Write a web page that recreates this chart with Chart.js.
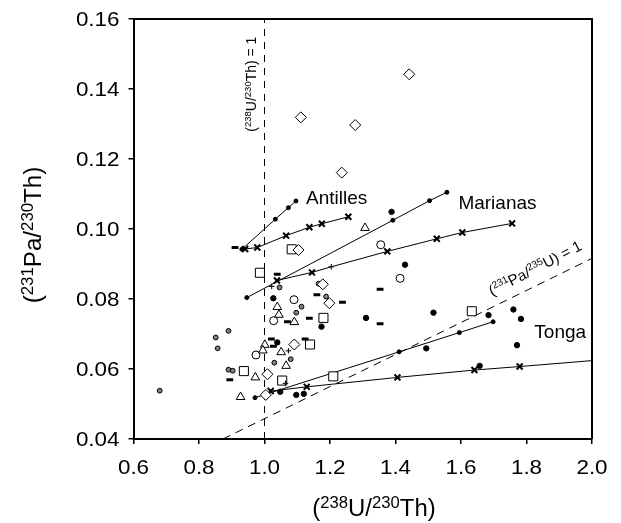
<!DOCTYPE html>
<html>
<head>
<meta charset="utf-8">
<script src="https://cdn.jsdelivr.net/npm/chart.js@4.4.0/dist/chart.umd.min.js"></script>
<style>
  html, body { margin: 0; padding: 0; background: #fff; }
  canvas { display: block; }
</style>
</head>
<body>
<canvas id="chart" width="621" height="523"></canvas>
<script>
const FONT = '"Liberation Sans", Arial, Helvetica, sans-serif';

// axis ticks
const xTicks = [0.6, 0.8, 1.0, 1.2, 1.4, 1.6, 1.8, 2.0];
const yTicks = [0.04, 0.06, 0.08, 0.10, 0.12, 0.14, 0.16];

// melting trajectories, [238U/230Th, 231Pa/230Th]
const antillesDots  = [[0.931, 0.0942], [1.033, 0.1028], [1.073, 0.1061], [1.096, 0.1080]];
const antillesCross = [[0.941, 0.0943], [0.978, 0.0947], [1.066, 0.0981], [1.137, 0.1005], [1.175, 0.1015], [1.256, 0.1035]];
const marianasDots  = [[0.946, 0.0804], [1.392, 0.1025], [1.504, 0.1081], [1.557, 0.1105]];
const marianasCross = [[1.038, 0.0853], [1.145, 0.0876], [1.204, 0.0892], [1.375, 0.0936], [1.526, 0.0972], [1.604, 0.0990], [1.756, 0.1016]];
const tongaDots     = [[0.971, 0.0518], [1.411, 0.0649], [1.595, 0.0704], [1.698, 0.0735]];
const tongaCross    = [[1.019, 0.0537], [1.129, 0.0549], [1.406, 0.0576], [1.641, 0.0597], [1.779, 0.0607], [2.0, 0.0624]];

// sample groups
const filledDots = [[1.027, 0.0802], [1.039, 0.0676], [1.174, 0.0721], [1.310, 0.0746], [1.429, 0.0898], [1.388, 0.1049],
  [1.048, 0.0535], [1.097, 0.0526], [1.120, 0.0529], [1.516, 0.0761], [1.494, 0.0659], [1.684, 0.0754],
  [1.760, 0.0770], [1.783, 0.0743], [1.771, 0.0668], [1.657, 0.0609]];
const greyDots = [[0.680, 0.0538], [0.851, 0.0690], [0.857, 0.0659], [0.890, 0.0709], [0.890, 0.0598], [0.903, 0.0595],
  [1.046, 0.0833], [1.097, 0.0761], [1.113, 0.0778], [1.165, 0.0844], [1.188, 0.0807], [1.030, 0.0618], [1.080, 0.0628]];
const openCircles = [[1.090, 0.0798], [1.028, 0.0738], [0.974, 0.0640], [1.355, 0.0955], [1.414, 0.0859]];
const diamonds = [[1.442, 0.1442], [1.111, 0.1319], [1.277, 0.1297], [1.236, 0.1161], [1.104, 0.0940], [1.178, 0.0842],
  [1.198, 0.0788], [1.091, 0.0670], [1.009, 0.0585], [1.004, 0.0526]];
const triangles = [[1.307, 0.1003], [1.039, 0.0777], [1.044, 0.0755], [1.091, 0.0734], [1.001, 0.0669], [0.995, 0.0653],
  [1.051, 0.0648], [1.066, 0.0609], [0.972, 0.0576], [0.927, 0.0520]];
const squares = [[0.986, 0.0875], [1.083, 0.0942], [1.180, 0.0746], [1.139, 0.0670], [0.937, 0.0594], [1.054, 0.0567],
  [1.210, 0.0579], [1.633, 0.0765]];
const plusMarks = [[1.022, 0.0836], [1.073, 0.0652], [1.064, 0.0559]];
const dashes = [[0.910, 0.0947], [1.039, 0.0871], [1.160, 0.0812], [1.238, 0.0791], [1.353, 0.0828], [1.353, 0.0729],
  [1.137, 0.0745], [1.070, 0.0735], [1.021, 0.0686], [1.027, 0.0665], [1.124, 0.0686], [0.894, 0.0569]];

// equilines
const uThEquiline  = [[1.0, 0.04], [1.0, 0.16]];
const paUEquiline  = [[0.873, 0.04], [2.0, 0.0916]];

const pts = arr => arr.map(([x, y]) => ({ x, y }));

function markers(data, style, radius, extra) {
  return Object.assign({
    data: pts(data),
    showLine: false,
    pointStyle: style,
    pointRadius: radius,
    pointBorderColor: '#000',
    pointBackgroundColor: '#fff',
    pointBorderWidth: 1
  }, extra || {});
}

function path(data, extra) {
  return Object.assign({
    data: pts(data),
    showLine: true,
    borderColor: '#000',
    borderWidth: 1,
    pointBorderColor: '#000',
    pointBackgroundColor: '#000',
    pointBorderWidth: 1
  }, extra || {});
}

// "(^238^U)" -> runs of normal / superscript text
function runs(str) {
  return str.split('^').map((t, i) => ({ t, s: i % 2 === 1 })).filter(r => r.t);
}

function richText(ctx, str, x, y, o) {
  const parts = runs(str);
  const fontOf = p => `${p.s ? o.sup : o.size}px ${FONT}`;
  let total = 0;
  parts.forEach(p => { ctx.font = fontOf(p); total += ctx.measureText(p.t).width; });
  ctx.save();
  ctx.translate(x, y);
  ctx.rotate(o.angle || 0);
  ctx.scale(o.stretch || 1, 1);
  ctx.fillStyle = '#000';
  ctx.textAlign = 'left';
  ctx.textBaseline = 'alphabetic';
  let cx = o.align === 'center' ? -total / 2 : o.align === 'right' ? -total : 0;
  parts.forEach(p => {
    ctx.font = fontOf(p);
    ctx.fillText(p.t, cx, p.s ? -o.rise : 0);
    cx += ctx.measureText(p.t).width;
  });
  ctx.restore();
}

const decorations = {
  id: 'decorations',
  afterDraw(chart) {
    const { ctx, chartArea: a, scales: { x, y } } = chart;
    // top and right frame
    ctx.save();
    ctx.strokeStyle = '#000';
    ctx.lineWidth = 2;
    ctx.beginPath();
    ctx.moveTo(a.left, a.top);
    ctx.lineTo(a.right, a.top);
    ctx.lineTo(a.right, a.bottom);
    ctx.stroke();
    ctx.restore();

    // tick labels, slightly wide numerals
    const tickOpts = { size: 20, sup: 20, rise: 0, stretch: 1.12 };
    xTicks.forEach(v => richText(ctx, v.toFixed(1), x.getPixelForValue(v), a.bottom + 35,
      Object.assign({ align: 'center' }, tickOpts)));
    yTicks.forEach(v => richText(ctx, v.toFixed(2), a.left - 14, y.getPixelForValue(v) + 7,
      Object.assign({ align: 'right' }, tickOpts)));

    // axis titles
    richText(ctx, '(^238^U/^230^Th)', 374, 516, { size: 23, sup: 16, rise: 8, align: 'center', stretch: 1.04 });
    richText(ctx, '(^231^Pa/^230^Th)', 41, 235, { size: 23, sup: 16, rise: 8, align: 'center', angle: -Math.PI / 2, stretch: 1.05 });

    // arc labels
    ctx.save();
    ctx.font = `19px ${FONT}`;
    ctx.fillStyle = '#000';
    ctx.fillText('Antilles', x.getPixelForValue(1.127), y.getPixelForValue(0.1071));
    ctx.fillText('Marianas', x.getPixelForValue(1.592), y.getPixelForValue(0.1056));
    ctx.fillText('Tonga', x.getPixelForValue(1.824), y.getPixelForValue(0.0688));
    ctx.restore();

    // equiline labels
    richText(ctx, '(^238^U/^230^Th) = 1', x.getPixelForValue(0.974), y.getPixelForValue(0.1278),
      { size: 14, sup: 9.5, rise: 5, angle: -Math.PI / 2 });
    const p0 = paUEquiline[0], p1 = paUEquiline[1];
    const ang = Math.atan2(y.getPixelForValue(p1[1]) - y.getPixelForValue(p0[1]),
                           x.getPixelForValue(p1[0]) - x.getPixelForValue(p0[0]));
    richText(ctx, '(^231^Pa/^235^U) = 1', x.getPixelForValue(1.695), y.getPixelForValue(0.0808),
      { size: 15, sup: 10, rise: 5.5, angle: ang * 1.05 });
  }
};

const axisCommon = {
  type: 'linear',
  ticks: { display: false },
  grid: { drawOnChartArea: false, tickLength: 5, color: '#000', lineWidth: 1.5 },
  border: { display: true, color: '#000', width: 2 }
};

new Chart(document.getElementById('chart'), {
  type: 'scatter',
  data: {
    datasets: [
      markers(dashes, 'line', 3.4, { pointBorderWidth: 3 }),
      markers(plusMarks, 'cross', 2.8),
      markers(diamonds, 'rectRot', 5.5),
      markers(squares, 'rect', 6.4),
      markers(triangles, 'triangle', 5),
      markers(openCircles, 'circle', 4),
      markers(greyDots, 'circle', 2.4, { pointBackgroundColor: '#808080' }),
      markers(filledDots, 'circle', 2.7, { pointBackgroundColor: '#000' }),
      path(antillesDots, { pointRadius: 2 }),
      path(antillesCross, { pointStyle: 'crossRot', pointRadius: 4.2, pointBorderWidth: 2 }),
      path(marianasDots, { pointRadius: 2 }),
      path(marianasCross, {
        pointStyle: marianasCross.map((p, i) => i === 2 ? 'cross' : 'crossRot'),
        pointRadius: marianasCross.map((p, i) => i === 2 ? 2.8 : 4.2),
        pointBorderWidth: marianasCross.map((p, i) => i === 2 ? 1 : 2)
      }),
      path(tongaDots, { pointRadius: 2 }),
      path(tongaCross, {
        pointStyle: 'crossRot',
        pointRadius: tongaCross.map(p => p[0] >= 2 ? 0 : 4.2),
        pointBorderWidth: 2
      }),
      path(uThEquiline, { borderDash: [7, 6], pointRadius: 0 }),
      path(paUEquiline, { borderDash: [8, 6], pointRadius: 0 })
    ]
  },
  options: {
    responsive: false,
    animation: false,
    events: [],
    layout: { padding: { left: 0, top: 19, right: 29, bottom: 0 } },
    plugins: { legend: { display: false }, tooltip: { enabled: false } },
    scales: {
      x: Object.assign({}, axisCommon, {
        min: 0.6,
        max: 2.0,
        afterBuildTicks: s => { s.ticks = xTicks.map(value => ({ value })); },
        afterFit: s => { s.height = 84; }
      }),
      y: Object.assign({}, axisCommon, {
        min: 0.04,
        max: 0.16,
        afterBuildTicks: s => { s.ticks = yTicks.map(value => ({ value })); },
        afterFit: s => { s.width = 133.5; }
      })
    }
  },
  plugins: [decorations]
});
</script>
</body>
</html>
